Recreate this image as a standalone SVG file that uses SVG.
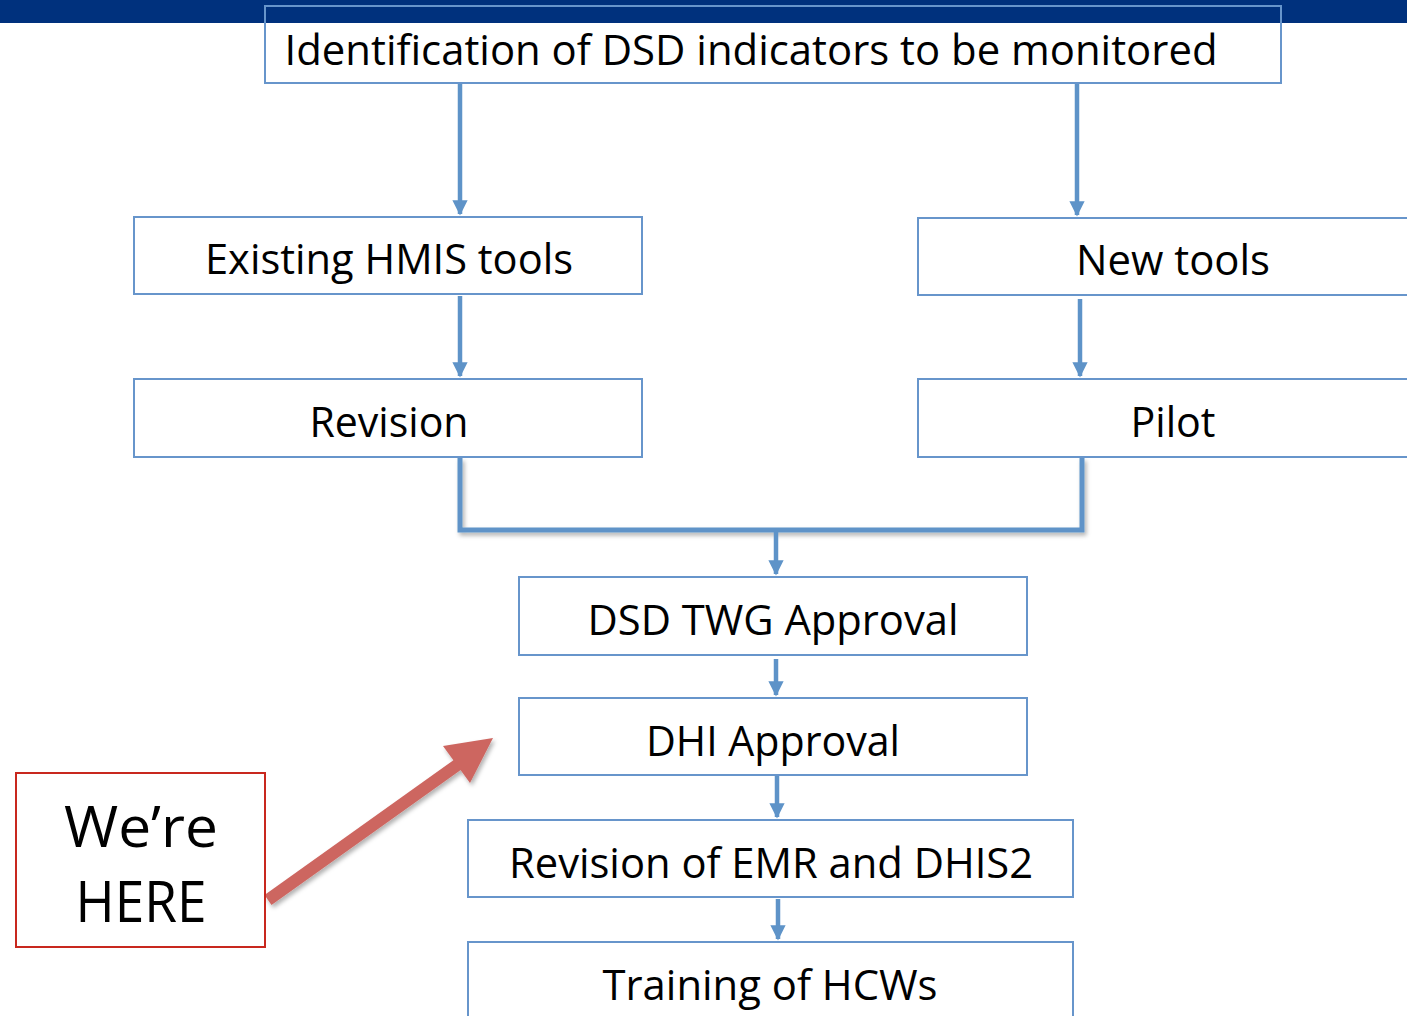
<svg xmlns="http://www.w3.org/2000/svg" width="1407" height="1016" viewBox="0 0 1407 1016">
<style>
.box{fill:none;stroke:#6795CB;stroke-width:2}
.wbox{fill:#fff;stroke:#6795CB;stroke-width:2}
.t{font-family:"Open Sans","Liberation Sans",sans-serif;font-size:42px;fill:#000;text-anchor:middle}
.c{fill:none;stroke:#5E93C8;stroke-width:4.5}
.big{font-family:"Open Sans","Liberation Sans",sans-serif;font-size:56px;fill:#000;text-anchor:middle}
</style>
<defs>
<marker id="ah" viewBox="0 0 10 10" refX="9" refY="5" markerWidth="3.4" markerHeight="3.4" orient="auto" markerUnits="strokeWidth">
<path d="M0,0 L10,5 L0,10 Z" fill="#5E93C8"/>
</marker>
<filter id="sh" x="-10%" y="-10%" width="130%" height="130%">
<feDropShadow dx="2" dy="3" stdDeviation="2" flood-color="#000" flood-opacity="0.3"/>
</filter>
</defs>
<rect x="0" y="0" width="1407" height="23" fill="#00317D"/>
<g id="connectors">
<path class="c" d="M460,84 V214" marker-end="url(#ah)"/>
<path class="c" d="M1077,84 V215" marker-end="url(#ah)"/>
<path class="c" d="M460,296 V376" marker-end="url(#ah)"/>
<path class="c" d="M1080,299 V376" marker-end="url(#ah)"/>
<path class="c" d="M460,458 V530 H1082 V458" style="stroke-width:5" filter="url(#sh)"/>
<path class="c" d="M776,532 V574" marker-end="url(#ah)"/>
<path class="c" d="M776,659 V695" marker-end="url(#ah)"/>
<path class="c" d="M777,776 V817" marker-end="url(#ah)"/>
<path class="c" d="M778,899 V939" marker-end="url(#ah)"/>
<g id="here-arrow" filter="url(#sh)">
<line x1="268" y1="900" x2="460" y2="763" stroke="#CD6660" stroke-width="12"/>
<polygon points="493,738 443,746 470,783" fill="#CD6660"/>
</g>
</g>
<g id="n-top"><rect class="box" x="265" y="6" width="1016" height="77"/><text class="t" x="751" y="65" textLength="933" lengthAdjust="spacingAndGlyphs">Identification of DSD indicators to be monitored</text></g>
<g id="n-existing"><rect class="wbox" x="134" y="217" width="508" height="77"/><text class="t" x="389" y="274" textLength="368" lengthAdjust="spacingAndGlyphs">Existing HMIS tools</text></g>
<g id="n-new"><rect class="wbox" x="918" y="218" width="500" height="77"/><text class="t" x="1173" y="275" textLength="194" lengthAdjust="spacingAndGlyphs">New tools</text></g>
<g id="n-revision"><rect class="wbox" x="134" y="379" width="508" height="78"/><text class="t" x="389" y="437" textLength="159" lengthAdjust="spacingAndGlyphs">Revision</text></g>
<g id="n-pilot"><rect class="wbox" x="918" y="379" width="500" height="78"/><text class="t" x="1173" y="437" textLength="85" lengthAdjust="spacingAndGlyphs">Pilot</text></g>
<g id="n-twg"><rect class="wbox" x="519" y="577" width="508" height="78"/><text class="t" x="773" y="635" textLength="371" lengthAdjust="spacingAndGlyphs">DSD TWG Approval</text></g>
<g id="n-dhi"><rect class="wbox" x="519" y="698" width="508" height="77"/><text class="t" x="773" y="756" textLength="254" lengthAdjust="spacingAndGlyphs">DHI Approval</text></g>
<g id="n-emr"><rect class="wbox" x="468" y="820" width="605" height="77"/><text class="t" x="771" y="878" textLength="524" lengthAdjust="spacingAndGlyphs">Revision of EMR and DHIS2</text></g>
<g id="n-training"><rect class="wbox" x="468" y="942" width="605" height="90"/><text class="t" x="770" y="1000" textLength="335" lengthAdjust="spacingAndGlyphs">Training of HCWs</text></g>
<g id="n-here"><rect x="16" y="773" width="249" height="174" fill="#fff" stroke="#C8281E" stroke-width="2"/>
<text class="big" x="141" y="847" textLength="154" lengthAdjust="spacingAndGlyphs">We’re</text>
<text class="big" x="141" y="922" textLength="131" lengthAdjust="spacingAndGlyphs">HERE</text></g>
</svg>
